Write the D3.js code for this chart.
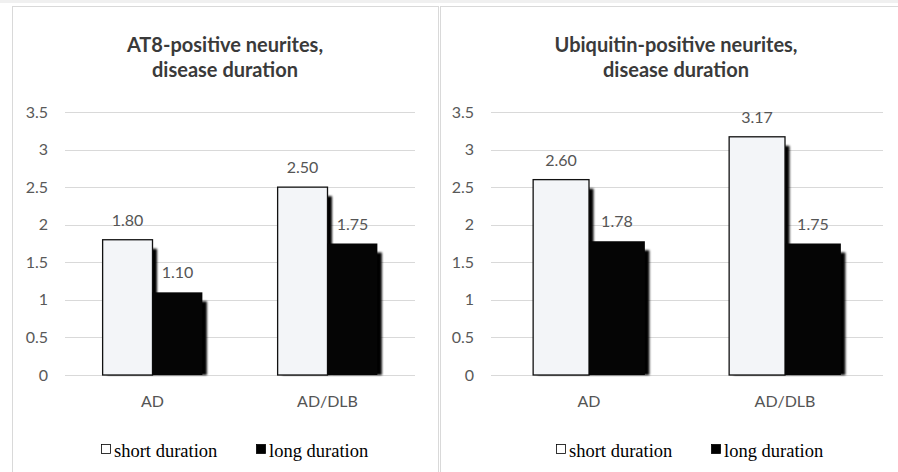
<!DOCTYPE html>
<html>
<head>
<meta charset="utf-8">
<script src="https://cdn.jsdelivr.net/npm/d3@7"></script>
<style>
  html, body { margin: 0; padding: 0; background: #fff; }
  svg { display: block; }
</style>
</head>
<body>
<svg id="chart" width="898" height="472"></svg>
<script>
// data
const categories = ["AD", "AD/DLB"];
const seriesNames = ["short duration", "long duration"];
const at8Short = [1.80, 2.50];
const at8Long = [1.10, 1.75];
const ubiqShort = [2.60, 3.17];
const ubiqLong = [1.78, 1.75];
const yTicks = [0, 0.5, 1, 1.5, 2, 2.5, 3, 3.5];
const yTickLabels = ["0", "0.5", "1", "1.5", "2", "2.5", "3", "3.5"];
const titleLeft = ["AT8-positive neurites,", "disease duration"];
const titleRight = ["Ubiquitin-positive neurites,", "disease duration"];

const sans = "Lato, 'Open Sans', sans-serif";
const serif = "'Liberation Serif', 'DejaVu Serif', serif";
const fills = ["#f3f5f8", "#050505"];

const svg = d3.select("#chart");

const y = d3.scaleLinear().domain([0, 3.5]).range([375, 112]);

function panel(opts) {
  const { left, right, plot, title, values, legendX } = opts;
  const g = svg.append("g");
  const cx = (left + right) / 2;

  // frame
  g.append("rect")
    .attr("x", left + 0.5).attr("y", 6.5)
    .attr("width", right - left).attr("height", 500)
    .attr("fill", "#fff").attr("stroke", "#d9d9d9").attr("stroke-width", 1);

  // title
  g.selectAll("text.title").data(title).enter()
    .append("text")
    .attr("class", "title")
    .attr("x", cx)
    .attr("y", (d, i) => 52 + i * 25)
    .attr("text-anchor", "middle")
    .attr("font-family", sans)
    .attr("font-weight", "bold")
    .attr("font-size", 20)
    .attr("fill", "#3a3a3a")
    .text(d => d);

  const x0 = d3.scaleBand().domain(categories).range(plot)
    .paddingInner(0.43).paddingOuter(0.215);
  const x1 = d3.scaleBand().domain(seriesNames).range([0, x0.bandwidth()]);

  // gridlines
  g.selectAll("line.grid").data(yTicks).enter()
    .append("line")
    .attr("x1", plot[0]).attr("x2", plot[1])
    .attr("y1", d => Math.round(y(d)) + 0.5)
    .attr("y2", d => Math.round(y(d)) + 0.5)
    .attr("stroke", "#d9d9d9").attr("stroke-width", 1);

  // y tick labels
  g.selectAll("text.ytick").data(yTicks).enter()
    .append("text")
    .attr("x", plot[0] - 17)
    .attr("y", d => y(d) + 5.5)
    .attr("text-anchor", "end")
    .attr("font-family", sans)
    .attr("font-size", 16)
    .attr("fill", "#595959")
    .text((d, i) => yTickLabels[i]);

  const rows = [];
  categories.forEach((c, ci) => {
    seriesNames.forEach((s, si) => rows.push({ c, s, si, v: values[si][ci] }));
  });

  // shadows
  g.selectAll("rect.shadow").data(rows).enter()
    .append("rect")
    .attr("x", d => x0(d.c) + x1(d.s) + 4.5)
    .attr("y", d => y(d.v) + 9)
    .attr("width", x1.bandwidth())
    .attr("height", d => y(0) - y(d.v) - 9)
    .attr("fill", "#000")
    .attr("filter", "url(#blur)");

  // bars
  g.selectAll("rect.bar").data(rows).enter()
    .append("rect")
    .attr("x", d => x0(d.c) + x1(d.s))
    .attr("y", d => y(d.v))
    .attr("width", x1.bandwidth())
    .attr("height", d => y(0) - y(d.v))
    .attr("fill", d => fills[d.si])
    .attr("stroke", "#111")
    .attr("stroke-width", d => d.si === 0 ? 1.3 : 0);

  // value labels
  g.selectAll("text.val").data(rows).enter()
    .append("text")
    .attr("x", d => x0(d.c) + x1(d.s) + x1.bandwidth() / 2)
    .attr("y", d => y(d.v) - 14)
    .attr("text-anchor", "middle")
    .attr("font-family", sans)
    .attr("font-size", 16)
    .attr("fill", "#555")
    .text(d => d.v.toFixed(2));

  // category labels
  g.selectAll("text.cat").data(categories).enter()
    .append("text")
    .attr("x", d => x0(d) + x0.bandwidth() / 2)
    .attr("y", 407)
    .attr("text-anchor", "middle")
    .attr("font-family", sans)
    .attr("font-size", 16)
    .attr("fill", "#555")
    .text(d => d);

  // legend
  const lg = g.selectAll("g.leg").data(seriesNames).enter()
    .append("g")
    .attr("transform", (d, i) => `translate(${legendX[i]},0)`);
  lg.append("rect")
    .attr("x", 0.5).attr("y", 444.5)
    .attr("width", 9).attr("height", 9)
    .attr("fill", (d, i) => i === 0 ? "#fff" : "#000")
    .attr("stroke", "#000").attr("stroke-width", 0.8);
  lg.append("text")
    .attr("x", 13).attr("y", 457)
    .attr("font-family", serif)
    .attr("font-size", 18.5)
    .attr("fill", "#000")
    .text(d => d);
}

const defs = svg.append("defs");
defs.append("filter").attr("id", "blur")
  .attr("x", "-20%").attr("y", "-20%").attr("width", "140%").attr("height", "140%")
  .append("feGaussianBlur").attr("stdDeviation", 1.2);

// faint strip at the very top (cropped caption above)
svg.append("rect").attr("x", 0).attr("y", 0).attr("width", 898).attr("height", 3)
  .attr("fill", "#f0f0f0");

panel({
  left: 12, right: 438, plot: [65, 415], title: titleLeft,
  values: [at8Short, at8Long], legendX: [101, 256]
});
panel({
  left: 440, right: 912, plot: [491, 883], title: titleRight,
  values: [ubiqShort, ubiqLong], legendX: [556, 711]
});
</script>
</body>
</html>
